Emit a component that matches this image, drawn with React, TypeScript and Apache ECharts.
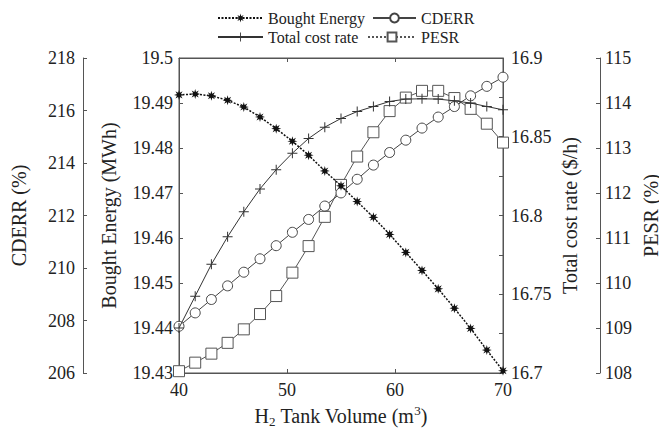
import React, { useEffect, useRef } from "react";
import * as echarts from "echarts";

const volume = [40, 41.5, 43, 44.5, 46, 47.5, 49, 50.5, 52, 53.5, 55, 56.5, 58, 59.5, 61, 62.5, 64, 65.5, 67, 68.5, 70];
const boughtEnergy = [19.4918, 19.492, 19.4916, 19.4906, 19.4891, 19.4869, 19.4843, 19.4815, 19.4784, 19.4749, 19.4716, 19.4681, 19.4646, 19.4608, 19.4568, 19.4528, 19.4487, 19.4444, 19.4399, 19.4351, 19.4305];
const cderr = [207.78, 208.29, 208.8, 209.32, 209.84, 210.35, 210.85, 211.36, 211.85, 212.36, 212.86, 213.38, 213.92, 214.4, 214.87, 215.33, 215.75, 216.15, 216.56, 216.92, 217.27];
const totalCost = [16.7286, 16.7488, 16.769, 16.7865, 16.8024, 16.8169, 16.8291, 16.8396, 16.8489, 16.8561, 16.8616, 16.866, 16.8692, 16.8724, 16.8739, 16.8741, 16.8739, 16.8728, 16.8714, 16.8692, 16.8671];
const pesr = [108.04, 108.23, 108.43, 108.67, 108.97, 109.31, 109.71, 110.23, 110.82, 111.47, 112.18, 112.81, 113.35, 113.82, 114.12, 114.27, 114.27, 114.11, 113.87, 113.54, 113.12];

const STAR = "path://M5,0L5.84,2.97L8.54,1.46L7.03,4.16L10,5L7.03,5.84L8.54,8.54L5.84,7.03L5,10L4.16,7.03L1.46,8.54L2.97,5.84L0,5L2.97,4.16L1.46,1.46L4.16,2.97Z";
const PLUS = "path://M4.5,0L5.5,0L5.5,4.5L10,4.5L10,5.5L5.5,5.5L5.5,10L4.5,10L4.5,5.5L0,5.5L0,4.5L4.5,4.5Z";

const FONT = "Liberation Serif";
const TXT = "#222";
const AX = "#555";

function pair(xs: number[], ys: number[]) {
  return xs.map((x, i) => [x, ys[i]]);
}

export default function App() {
  const ref = useRef<HTMLDivElement>(null);
  useEffect(() => {
    const chart = echarts.init(ref.current!, null, { renderer: "svg" });
    const axisCommon = {
      axisLine: { show: true, lineStyle: { color: AX, width: 1 } },
      axisTick: { show: true, inside: true, length: 4, lineStyle: { color: AX } },
      splitLine: { show: false },
      nameTextStyle: { color: TXT, fontFamily: FONT, fontSize: 20 },
      nameLocation: "middle" as const,
      nameRotate: 90,
    };
    const lab = (margin: number) => ({ color: TXT, fontFamily: FONT, fontSize: 18, margin });
    const legendBase = {
      itemHeight: 11,
      itemGap: 0,
      textStyle: { color: TXT, fontFamily: FONT, fontSize: 16 },
    };
    chart.setOption({
      animation: false,
      textStyle: { fontFamily: FONT },
      grid: {
        left: 179,
        right: 164,
        top: 58,
        bottom: 64,
        show: true,
        borderColor: AX,
        borderWidth: 1,
        outerBoundsMode: "none",
        containLabel: false,
      },
      legend: [
        { ...legendBase, left: 212, top: 5, itemWidth: 45, data: [{ name: "Bought Energy" }] },
        { ...legendBase, left: 367, top: 5, itemWidth: 43, data: [{ name: "CDERR" }] },
        { ...legendBase, left: 212, top: 24, itemWidth: 45, data: [{ name: "Total cost rate" }] },
        {
          ...legendBase,
          left: 362,
          top: 24,
          itemWidth: 48,
          data: [{ name: "PESR", lineStyle: { type: [2, 2] } }],
        },
      ],
      xAxis: [
        {
          type: "value",
          min: 40,
          max: 70,
          interval: 10,
          position: "bottom",
          axisLine: { show: true, lineStyle: { color: AX } },
          axisTick: { show: true, inside: true, length: 4, lineStyle: { color: AX } },
          splitLine: { show: false },
          axisLabel: lab(8),
          name: "{n|H}{sub|2}{n| Tank Volume (m}{sup|3}{n|)}",
          nameLocation: "middle",
          nameGap: 31,
          nameTextStyle: {
            color: TXT,
            fontFamily: FONT,
            fontSize: 20,
            lineHeight: 24,
            rich: {
              n: { fontFamily: FONT, fontSize: 20, color: TXT, lineHeight: 24 },
              sub: { fontFamily: FONT, fontSize: 13, color: TXT, lineHeight: 13, verticalAlign: "bottom" },
              sup: { fontFamily: FONT, fontSize: 13, color: TXT, lineHeight: 13, verticalAlign: "top" },
            },
          },
        },
        {
          type: "value",
          min: 40,
          max: 70,
          interval: 10,
          position: "top",
          axisLine: { show: true, lineStyle: { color: AX } },
          axisTick: { show: true, inside: true, length: 4, lineStyle: { color: AX } },
          axisLabel: { show: false },
          splitLine: { show: false },
        },
      ],
      yAxis: [
        {
          ...axisCommon,
          type: "value",
          position: "left",
          offset: 96,
          min: 206,
          max: 218,
          interval: 2,
          axisLabel: lab(8),
          name: "CDERR (%)",
          nameGap: 54,
        },
        {
          ...axisCommon,
          type: "value",
          position: "left",
          offset: 0,
          min: 19.43,
          max: 19.5,
          interval: 0.01,
          axisLabel: lab(6),
          name: "Bought Energy (MWh)",
          nameGap: 60,
        },
        {
          ...axisCommon,
          type: "value",
          position: "right",
          offset: 0,
          min: 16.7,
          max: 16.9,
          interval: 0.025,
          name: "Total cost rate ($/h)",
          nameGap: 57,
          axisLabel: {
            ...lab(8),
            formatter: (v: number) => {
              const k = v * 20;
              return Math.abs(k - Math.round(k)) < 1e-6 ? String(+v.toFixed(3)) : "";
            },
          },
        },
        {
          ...axisCommon,
          type: "value",
          position: "right",
          offset: 97,
          min: 108,
          max: 115,
          interval: 1,
          axisLabel: lab(5),
          name: "PESR (%)",
          nameGap: 41,
        },
      ],
      series: [
        {
          name: "Bought Energy",
          type: "line",
          yAxisIndex: 1,
          data: pair(volume, boughtEnergy),
          symbol: STAR,
          symbolSize: 10,
          lineStyle: { color: "#111", width: 1.5, type: [2, 1.5] },
          itemStyle: { color: "#111", borderWidth: 0 },
          z: 5,
        },
        {
          name: "CDERR",
          type: "line",
          yAxisIndex: 0,
          data: pair(volume, cderr),
          symbol: "circle",
          symbolSize: 10,
          lineStyle: { color: "#444", width: 1 },
          itemStyle: { color: "#fff", borderColor: "#444", borderWidth: 1 },
          z: 3,
        },
        {
          name: "Total cost rate",
          type: "line",
          yAxisIndex: 2,
          data: pair(volume, totalCost),
          symbol: PLUS,
          symbolSize: 10,
          lineStyle: { color: "#333", width: 1 },
          itemStyle: { color: "#333", borderWidth: 0 },
          z: 4,
        },
        {
          name: "PESR",
          type: "line",
          yAxisIndex: 3,
          data: pair(volume, pesr),
          symbol: "rect",
          symbolSize: 11,
          lineStyle: { color: "#555", width: 1 },
          itemStyle: { color: "#fff", borderColor: "#555", borderWidth: 1 },
          z: 2,
        },
      ],
    });
    return () => chart.dispose();
  }, []);
  return <div ref={ref} style={{ width: 667, height: 437, margin: -8 }} />;
}
